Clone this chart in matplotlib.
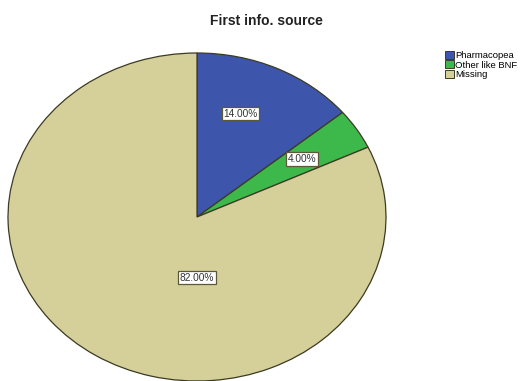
import matplotlib
matplotlib.use("Agg")
import matplotlib.pyplot as plt
from matplotlib.patches import Patch

plt.rcParams['font.family'] = ['Liberation Sans', 'DejaVu Sans']

categories = ["Pharmacopea", "Other like BNF", "Missing"]
percentages = [14.0, 4.0, 82.0]
colors = ["#3d55aa", "#3cb94a", "#d5cf9a"]
edge = "#3b3b22"

fig = plt.figure(figsize=(5.20, 3.81), dpi=100)
fig.patch.set_facecolor("white")

# Pie axes: stretched horizontally, so the pie is drawn as an ellipse
ax = fig.add_axes([8 / 520, 0.0, 378 / 520, 328 / 381])
wedges, texts, autotexts = ax.pie(
    percentages, colors=colors, startangle=90, counterclock=False,
    autopct=lambda p: f"{p:.2f}%", pctdistance=0.66,
    wedgeprops=dict(edgecolor=edge, linewidth=0.9),
    textprops=dict(fontsize=7.3, color="#333333"),
)
ax.set_aspect("auto")
ax.set_xlim(-1, 1)
ax.set_ylim(-1, 1)
for t in autotexts:
    t.set_bbox(dict(boxstyle="square,pad=0.15", facecolor="white",
                    edgecolor="#5b5838", linewidth=0.9))
# Label placement inside the slices
autotexts[0].set_position((0.23, 0.63))
autotexts[2].set_position((0.0, -0.37))

fig.text(266 / 520, 1 - 21 / 381, "First info. source", ha="center",
         va="center", fontsize=10, fontweight="bold", color="#222222")

handles = [Patch(facecolor=c, edgecolor=edge, linewidth=0.7) for c in colors]
fig.legend(handles, categories, loc="upper left",
           bbox_to_anchor=(445 / 520, 1 - 51 / 381), frameon=False,
           fontsize=6.8, handlelength=0.95, handleheight=0.95,
           handletextpad=0.15, labelspacing=0.0, borderpad=0,
           borderaxespad=0)

fig.savefig("out.png", dpi=100)
